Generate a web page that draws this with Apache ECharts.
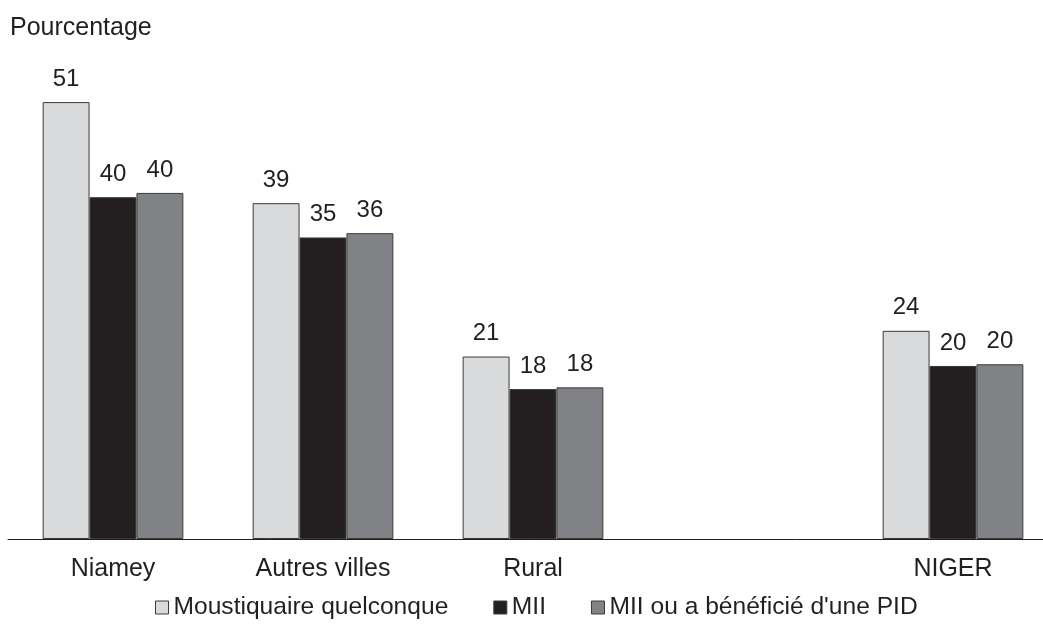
<!DOCTYPE html>
<html>
<head>
<meta charset="utf-8">
<script src="https://cdn.jsdelivr.net/npm/echarts@6/dist/echarts.min.js"></script>
<style>
  html, body { margin: 0; padding: 0; background: #fff; overflow: hidden; }
  /* le graphique déborde un peu à droite : l'axe est coupé par le bord, comme dans l'original */
  #chart { width: 1058px; height: 626px; }
</style>
</head>
<body>
<div id="chart"></div>
<script>
// catégories (la 4e case reste vide, comme dans l'original)
const categories = ['Niamey', 'Autres villes', 'Rural', '', 'NIGER']
const seriesNames = ['Moustiquaire quelconque', 'MII', "MII ou a bénéficié d'une PID"]
// valeurs
const moustiquaire = [51.0, 39.2, 21.3, null, 24.3]
const mii = [39.9, 35.2, 17.5, null, 20.2]
const miiPid = [40.4, 35.7, 17.7, null, 20.4]

const colors = ['#d9dadb', '#231f20', '#808285']
const font = 'Liberation Sans, Arial, sans-serif'

const chart = echarts.init(document.getElementById('chart'))

function barSeries (name, data, color) {
  return {
    name: name,
    type: 'bar',
    barGap: 0,
    barCategoryGap: '33%',
    data: data,
    itemStyle: { color: color, borderColor: '#3a3a3a', borderWidth: 1 },
    label: {
      show: true,
      position: 'top',
      distance: 11,
      color: '#231f20',
      fontFamily: font,
      fontSize: 24,
      formatter: p => Math.round(p.value)
    }
  }
}

chart.setOption({
  animation: false,
  title: {
    text: 'Pourcentage',
    left: 10,
    top: 16,
    padding: 0,
    textStyle: { color: '#231f20', fontFamily: font, fontSize: 25, fontWeight: 'normal' }
  },
  legend: {
    data: seriesNames,
    left: 155,
    top: 595,
    padding: 0,
    itemWidth: 13,
    itemHeight: 13,
    itemGap: 45,
    icon: 'rect',
    itemStyle: { borderColor: '#3a3a3a', borderWidth: 1 },
    textStyle: { color: '#231f20', fontFamily: font, fontSize: 24.6 }
  },
  grid: { left: 8, right: 0, top: 25, height: 514, containLabel: false },
  xAxis: {
    type: 'category',
    data: categories,
    axisLine: { show: true, lineStyle: { color: '#231f20', width: 1 } },
    axisTick: { show: false },
    axisLabel: { color: '#231f20', fontFamily: font, fontSize: 25, margin: 18 }
  },
  yAxis: {
    type: 'value',
    min: 0,
    max: 60,
    show: false,
    splitLine: { show: false }
  },
  series: [
    barSeries(seriesNames[0], moustiquaire, colors[0]),
    barSeries(seriesNames[1], mii, colors[1]),
    barSeries(seriesNames[2], miiPid, colors[2])
  ]
})
</script>
</body>
</html>
